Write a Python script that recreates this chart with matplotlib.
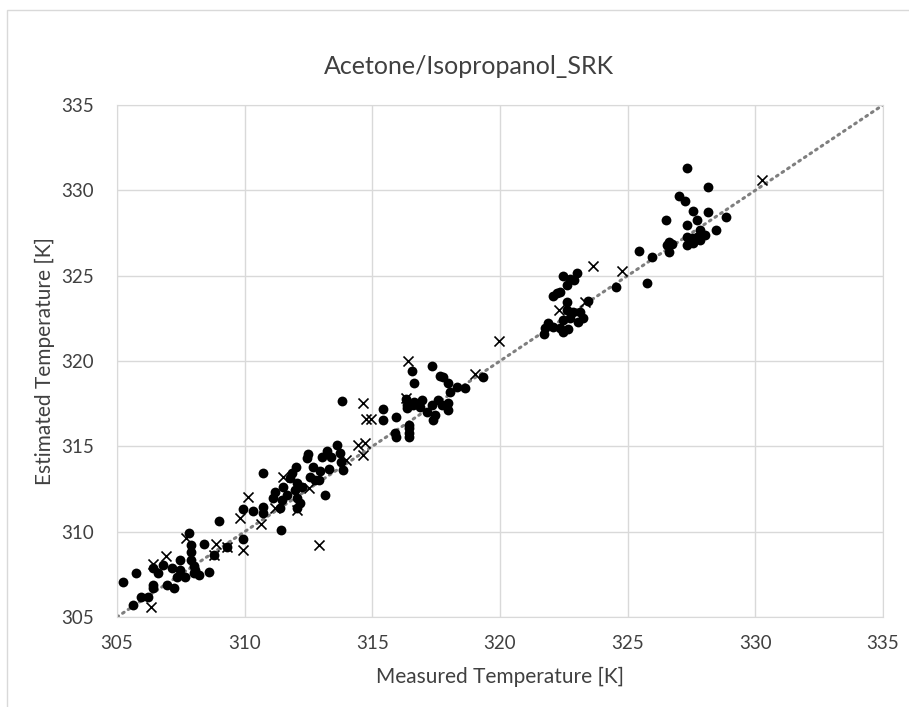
import matplotlib.pyplot as plt
from matplotlib.patches import Rectangle
import numpy as np

# measured / estimated temperatures [K]
circle_x = [310.71, 309.92, 310.34, 310.73, 310.73, 309.01, 307.82, 309.92, 308.42, 309.29,
            308.80, 306.40, 306.62, 306.81, 307.14, 307.47, 307.47, 307.90, 307.90, 307.90,
            308.00, 308.00, 307.34, 307.66, 308.05, 308.22, 308.61, 305.73, 305.22, 306.42,
            306.42, 306.95, 307.23, 305.94, 306.20, 305.61,
            316.63, 313.82, 315.43, 315.43, 315.92, 315.88, 315.92, 316.44, 316.44, 316.35,
            316.63, 313.63, 313.21, 313.04, 313.73, 313.77, 313.40, 313.84, 312.49, 312.43,
            312.69, 312.95, 313.30, 312.01, 311.84, 311.77, 312.56, 312.75, 312.92, 312.04,
            312.23, 311.97, 311.51, 311.64, 311.19, 311.12, 311.45, 311.38, 312.04, 312.17,
            312.04, 313.15, 311.42,
            317.32, 316.54, 317.65, 317.75, 319.35, 317.98, 318.04, 318.30, 318.63, 316.32,
            316.35, 316.61, 316.94, 316.87, 317.13, 317.32, 317.46, 317.39, 317.58, 317.72,
            317.98, 317.98, 316.45, 316.45,
            324.54, 322.48, 322.74, 323.03, 322.90, 322.61, 322.07, 322.22, 322.35, 322.63,
            323.43, 322.61, 322.87, 323.13, 323.26, 322.74, 322.48, 323.07, 321.89, 322.09,
            321.76, 321.72, 322.35, 322.48, 322.68,
            327.34, 328.16, 327.03, 327.25, 327.55, 328.16, 326.50, 328.87, 327.31, 327.73,
            327.83, 327.31, 327.51, 327.70, 328.03, 328.46, 326.63, 326.72, 326.53, 326.63,
            327.31, 327.55, 327.83, 325.46, 325.94, 325.74]
circle_y = [313.42, 311.31, 311.23, 311.43, 311.12, 310.63, 309.91, 309.56, 309.28, 309.13,
            308.64, 307.86, 307.57, 308.06, 307.86, 308.35, 307.76, 309.20, 308.80, 308.35,
            307.96, 307.60, 307.37, 307.37, 307.76, 307.47, 307.61, 307.57, 307.07, 306.88,
            306.69, 306.88, 306.69, 306.16, 306.16, 305.71,
            318.73, 317.66, 317.17, 316.55, 316.74, 315.81, 315.57, 316.06, 315.57, 317.40,
            317.60, 315.10, 314.75, 314.36, 314.63, 314.10, 314.36, 313.62, 314.57, 314.30,
            313.78, 313.58, 313.66, 313.81, 313.42, 313.13, 313.23, 313.03, 313.03, 312.84,
            312.64, 312.45, 312.64, 312.15, 312.35, 311.96, 311.86, 311.37, 311.96, 311.67,
            311.37, 312.15, 310.10,
            319.71, 319.44, 319.13, 319.05, 319.09, 318.70, 318.21, 318.50, 318.40, 317.76,
            317.23, 317.43, 317.72, 317.33, 317.04, 317.43, 316.84, 316.55, 317.72, 317.43,
            317.53, 317.13, 316.25, 315.77,
            324.32, 324.98, 324.79, 325.18, 324.75, 324.46, 323.81, 323.97, 324.06, 323.48,
            323.54, 322.99, 322.89, 322.89, 322.50, 322.50, 322.40, 322.31, 322.21, 322.02,
            321.92, 321.58, 321.92, 321.72, 321.86,
            331.33, 330.21, 329.67, 329.39, 328.81, 328.71, 328.26, 328.42, 327.97, 328.26,
            327.68, 327.28, 327.19, 327.28, 327.38, 327.68, 326.99, 326.86, 326.80, 326.41,
            326.80, 326.90, 327.09, 326.47, 326.12, 324.59]

cross_x = [310.12, 309.82, 310.63, 307.70, 309.92, 308.88, 309.29, 308.80, 306.92, 306.40,
           306.33, 314.65, 314.75, 314.95, 316.32, 314.45, 314.71, 314.65, 313.96, 311.51,
           312.53, 312.04, 311.19, 312.92, 319.95, 316.41, 319.02, 323.66, 324.76, 322.32,
           323.33, 330.25]
cross_y = [312.05, 310.82, 310.45, 309.62, 308.93, 309.28, 309.13, 308.64, 308.60, 308.11,
           305.61, 317.56, 316.59, 316.59, 317.82, 315.07, 315.17, 314.47, 314.20, 313.23,
           312.55, 311.27, 311.37, 309.22, 321.19, 320.02, 319.23, 325.57, 325.28, 322.99,
           323.48, 330.61]

ticks = [305, 310, 315, 320, 325, 330, 335]

plt.rcParams['font.family'] = ['Lato', 'DejaVu Sans']
TXT = '#404040'

fig = plt.figure(figsize=(9.09, 7.07), dpi=100)
ax = fig.add_axes([117/909, 1 - 617/707, 766/909, 512/707])

# outer chart frame (cut off at right/bottom in the original)
fig.patches.append(Rectangle((7/909, -0.1), 1.2, 1 - 10/707 + 0.1, transform=fig.transFigure,
                             fill=False, edgecolor='#d9d9d9', linewidth=1))

ax.plot([305, 335], [305, 335], linestyle=(0, (0.6, 1.6)), color='#7f7f7f',
        linewidth=2.2, dash_capstyle='round', zorder=2)
ax.scatter(circle_x, circle_y, s=50, marker='o', color='black', linewidths=0, zorder=3)
ax.scatter(cross_x, cross_y, s=52, marker='x', color='black', linewidths=1.2, zorder=3)

ax.set_xlim(305, 335)
ax.set_ylim(305, 335)
ax.set_xticks(ticks)
ax.set_yticks(ticks)
ax.grid(True, color='#d9d9d9', linewidth=1)
ax.set_axisbelow(True)
for s in ax.spines.values():
  s.set_color('#d9d9d9')
ax.tick_params(axis='both', length=0, labelsize=13.5, colors=TXT)
ax.tick_params(axis='y', pad=16.5)
ax.tick_params(axis='x', pad=13)

fig.text(500/909, 1 - 677/707, 'Measured Temperature [K]', fontsize=15, color=TXT,
         ha='center', va='center')
fig.text(45/909, 1 - 361/707, 'Estimated Temperature [K]', fontsize=15, color=TXT,
         ha='center', va='center', rotation=90)
fig.text(469/909, 1 - 67/707, 'Acetone/Isopropanol_SRK', fontsize=18, color=TXT,
         ha='center', va='center')

plt.savefig('out.png', dpi=100)
